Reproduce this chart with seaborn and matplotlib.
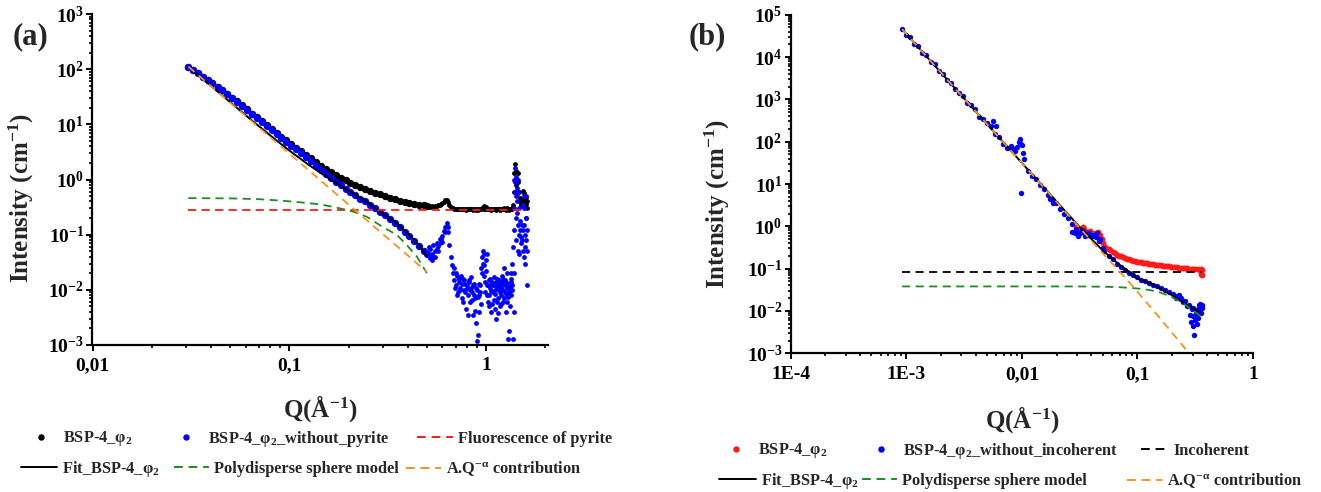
import matplotlib
matplotlib.use("Agg")
import matplotlib.pyplot as plt
import seaborn as sns
from matplotlib.lines import Line2D
from matplotlib.ticker import FixedLocator, FixedFormatter, LogLocator, NullFormatter

# ---------------- panel (a): SAXS, pyrite fluorescence ----------------
q_a_low = [0.0307, 0.0324, 0.0343, 0.0363, 0.0385, 0.0407, 0.0432, 0.0457, 0.0484, 0.0513,
           0.0543, 0.0575, 0.0610, 0.0646, 0.0684, 0.0724, 0.0767, 0.0813, 0.0861, 0.0912,
           0.0966, 0.102, 0.108, 0.115, 0.122, 0.129, 0.136, 0.145, 0.153, 0.162,
           0.172, 0.182, 0.193, 0.204, 0.216, 0.229, 0.243, 0.257, 0.272, 0.288,
           0.305, 0.324, 0.343, 0.363, 0.385, 0.407, 0.432, 0.457, 0.484, 0.500]
blue_a_low = [111, 97.5, 84, 73, 64, 55.5, 48, 41.5, 35.5, 30.3,
              25.9, 21.8, 18.3, 15.4, 13.1, 11.0, 9.3, 7.9, 6.7, 5.7,
              4.8, 4.1, 3.5, 3.0, 2.53, 2.13, 1.79, 1.51, 1.27, 1.07,
              0.91, 0.79, 0.68, 0.59, 0.52, 0.45, 0.40, 0.35, 0.30, 0.26,
              0.225, 0.19, 0.16, 0.135, 0.112, 0.093, 0.076, 0.062, 0.050, 0.045]
black_a_low = [111.3, 97.8, 84.3, 73.3, 64.3, 55.8, 48.3, 41.8, 35.8, 30.6,
               26.2, 22.1, 18.6, 15.7, 13.4, 11.3, 9.6, 8.2, 7.0, 6.0,
               5.1, 4.4, 3.8, 3.3, 2.81, 2.41, 2.07, 1.79, 1.55, 1.35,
               1.19, 1.07, 0.96, 0.87, 0.80, 0.73, 0.68, 0.63, 0.58, 0.54,
               0.505, 0.47, 0.44, 0.415, 0.392, 0.373, 0.36, 0.35, 0.34, 0.335]

q_a_high = [0.51, 0.52, 0.53, 0.54, 0.55, 0.56, 0.57, 0.58, 0.59, 0.60, 0.61, 0.62, 0.63, 0.64, 0.65, 0.66, 0.67,
            0.68, 0.69, 0.70, 0.71, 0.72, 0.73, 0.74, 0.75, 0.76, 0.77,
            0.78, 0.79, 0.80, 0.81, 0.82, 0.83, 0.84, 0.85, 0.86, 0.87,
            0.88, 0.89, 0.90, 0.91, 0.92, 0.93, 0.94, 0.95, 0.96, 0.97,
            0.98, 0.99, 1.00, 1.01, 1.02, 1.03, 1.04, 1.05, 1.06, 1.07,
            1.08, 1.09, 1.10, 1.11, 1.12, 1.13, 1.14, 1.15, 1.16, 1.17,
            1.18, 1.19, 1.20, 1.21, 1.22, 1.23, 1.24, 1.25, 1.26, 1.27,
            1.28, 1.29, 1.30, 1.31, 1.32, 1.33, 1.34, 1.35, 1.36,
            1.37, 1.38, 1.39, 1.40, 1.41, 1.42, 1.43, 1.44, 1.45, 1.46, 1.47, 1.48, 1.49,
            1.50, 1.51, 1.52, 1.53, 1.54, 1.55, 1.56, 1.57, 1.58, 1.59, 1.60, 1.61, 1.62]
blue_a_high = [0.042, 0.038, 0.045, 0.040, 0.050, 0.055, 0.062, 0.070, 0.082, 0.095, 0.115, 0.135, 0.145,
               0.110, 0.065, 0.040, 0.028,
               0.020, 0.015, 0.012, 0.018, 0.009, 0.014, 0.011, 0.007, 0.016, 0.010,
               0.013, 0.0045, 0.012, 0.008, 0.015, 0.006, 0.011, 0.009, 0.0035, 0.013,
               0.007, 0.0025, 0.010, 0.0015, 0.008, 0.012, 0.0055, 0.020, 0.030, 0.045,
               0.018, 0.009, 0.035, 0.012, 0.006, 0.015, 0.008, 0.011, 0.004, 0.014,
               0.009, 0.0065, 0.012, 0.0085, 0.003, 0.011, 0.016, 0.007, 0.010, 0.005,
               0.013, 0.008, 0.018, 0.012, 0.006, 0.025, 0.009, 0.015, 0.004, 0.011,
               0.020, 0.0075, 0.013, 0.0018, 0.010, 0.016, 0.008, 0.012, 0.030,
               0.06, 0.3, 1.0, 1.6, 1.1, 0.5, 0.25, 0.7, 1.0, 0.6, 0.3, 0.18, 0.12,
               0.09, 0.07, 0.08, 0.15, 0.35, 0.3, 0.15, 0.1, 0.06, 0.08, 0.2, 0.12, 0.012]
black_a_high = [0.325, 0.32, 0.325, 0.32, 0.33, 0.335, 0.34, 0.35, 0.36, 0.375, 0.395, 0.42, 0.43,
                0.39, 0.345, 0.32, 0.31,
                0.300, 0.295, 0.292, 0.298, 0.289, 0.294, 0.291, 0.287, 0.296, 0.290,
                0.293, 0.285, 0.292, 0.288, 0.295, 0.286, 0.291, 0.289, 0.284, 0.293,
                0.287, 0.283, 0.290, 0.282, 0.288, 0.292, 0.286, 0.300, 0.310, 0.325,
                0.298, 0.289, 0.315, 0.292, 0.286, 0.295, 0.288, 0.291, 0.284, 0.294,
                0.289, 0.287, 0.292, 0.289, 0.283, 0.291, 0.296, 0.287, 0.290, 0.285,
                0.293, 0.288, 0.298, 0.292, 0.286, 0.305, 0.289, 0.295, 0.284, 0.291,
                0.300, 0.288, 0.293, 0.282, 0.290, 0.296, 0.288, 0.292, 0.310,
                0.35, 0.6, 1.3, 1.9, 1.4, 0.8, 0.55, 1.0, 1.3, 0.9, 0.6, 0.46, 0.40,
                0.37, 0.35, 0.36, 0.43, 0.63, 0.58, 0.43, 0.38, 0.34, 0.36, 0.48, 0.40, 0.30]

q_a_extra = [0.51, 0.52, 0.53, 0.54, 0.55, 0.56, 0.57, 0.58, 0.60, 0.62, 0.63, 0.64,
             0.685, 0.695, 0.705, 0.715, 0.725, 0.735, 0.745, 0.755, 0.765, 0.775,
             0.785, 0.795, 0.805, 0.815, 0.825, 0.835, 0.845, 0.855, 0.865, 0.875,
             0.885, 0.895, 0.905, 0.915, 0.925, 0.935, 0.945, 0.955, 0.965, 0.975,
             0.985, 0.995, 1.005, 1.015, 1.025, 1.035, 1.045, 1.055, 1.065, 1.075,
             1.085, 1.095, 1.105, 1.115, 1.125, 1.135, 1.145, 1.155, 1.165, 1.175,
             1.185, 1.195, 1.205, 1.215, 1.225, 1.235, 1.245, 1.255, 1.265, 1.275,
             1.285, 1.295, 1.305, 1.315, 1.325, 1.335, 1.345, 1.355,
             1.375, 1.385, 1.395, 1.385, 1.39, 1.405, 1.415, 1.425, 1.435, 1.445, 1.455,
             1.465, 1.475, 1.535, 1.545, 1.555, 1.565, 1.575, 1.585, 1.595, 1.605]
blue_a_extra = [0.06, 0.055, 0.035, 0.065, 0.04, 0.07, 0.05, 0.085, 0.075, 0.11, 0.16, 0.14,
                0.025, 0.011, 0.020, 0.008, 0.016, 0.010, 0.018, 0.013, 0.006, 0.015,
                0.009, 0.011, 0.0035, 0.014, 0.010, 0.017, 0.0065, 0.012, 0.008, 0.0042,
                0.011, 0.0012, 0.0075, 0.013, 0.004, 0.009, 0.025, 0.040, 0.050, 0.028,
                0.014, 0.022, 0.045, 0.008, 0.012, 0.005, 0.016, 0.0095, 0.013, 0.0055,
                0.012, 0.017, 0.0045, 0.010, 0.014, 0.006, 0.012, 0.0038, 0.015, 0.009,
                0.011, 0.0055, 0.014, 0.010, 0.016, 0.007, 0.012, 0.0085, 0.014, 0.006,
                0.012, 0.0013, 0.009, 0.011, 0.005, 0.014, 0.020, 0.010,
                0.0013, 0.12, 0.6, 0.004, 0.02, 0.9, 0.2, 0.08, 0.4, 0.15, 0.05,
                0.1, 0.045, 0.05, 0.12, 0.5, 0.04, 0.03, 0.2, 0.5, 0.05]

# model curves of panel (a)
q_fit_a = [0.0307, 0.04, 0.05, 0.065, 0.08, 0.1, 0.125, 0.15, 0.175, 0.2, 0.25, 0.3, 0.35, 0.4, 0.45, 0.5]
fit_a = [111.5, 49.7, 25.3, 11.5, 6.3, 3.35, 1.86, 1.2, 0.84, 0.626, 0.385, 0.237, 0.163, 0.104, 0.068, 0.041]
q_sphere_a = [0.0307, 0.05, 0.07, 0.09, 0.1135, 0.143, 0.174, 0.212, 0.248, 0.30, 0.352, 0.395, 0.445, 0.5]
sphere_a = [0.46, 0.455, 0.44, 0.415, 0.386, 0.355, 0.31, 0.26, 0.21, 0.136, 0.099, 0.065, 0.040, 0.020]
q_power_a = [0.0307, 0.05, 0.1, 0.2, 0.3, 0.4, 0.5]
power_a = [111, 24.8, 2.95, 0.351, 0.101, 0.042, 0.021]
q_fluo_a = [0.0307, 1.6]
fluo_a = [0.28, 0.28]

# ---------------- panel (b): SANS, incoherent background ----------------
q_b = [0.000918, 0.00100, 0.001084, 0.001175, 0.001274, 0.00138, 0.001496, 0.001622, 0.001758, 0.001905,
       0.002065, 0.002239, 0.002427, 0.00263, 0.002851, 0.00309, 0.00335, 0.00363, 0.00394, 0.00427,
       0.00462, 0.00501, 0.00543, 0.00589, 0.00638, 0.00692, 0.0075, 0.00813, 0.00881, 0.00955,
       0.01035, 0.01122, 0.01216, 0.01318, 0.01429, 0.01549, 0.01679, 0.0182, 0.01972, 0.02138,
       0.02317, 0.02512, 0.02723, 0.02951, 0.03199, 0.03467, 0.03758, 0.04074, 0.04416, 0.04786,
       0.05188, 0.05623, 0.06095, 0.06607, 0.07161, 0.07762, 0.08414, 0.0912, 0.09886, 0.1072,
       0.1161, 0.1259, 0.1365, 0.1479, 0.1603, 0.1738, 0.1884, 0.2042, 0.2213, 0.2399,
       0.26, 0.2818, 0.3055, 0.3311, 0.3589]
blue_b = [46000, 33000, 29500, 20500, 17800, 12400, 10900, 7600, 6700, 4600,
          4050, 2850, 2500, 1760, 1380, 1190, 840, 720, 590, 380,
          350, 270, 230, 150, 128, 90, 72, 80, 65, 95,
          38, 20, 15.5, 12.8, 9.6, 7.5, 5.6, 4.4, 3.5, 2.6,
          2.0, 1.55, 1.15, 0.85, 0.7, 0.75, 0.62, 0.6, 0.55, 0.5,
          0.265, 0.2, 0.165, 0.13, 0.11, 0.092, 0.08, 0.07, 0.062, 0.055,
          0.05, 0.046, 0.042, 0.038, 0.035, 0.031, 0.028, 0.025, 0.022, 0.02,
          0.017, 0.014, 0.012, 0.011, 0.012]
q_b_extra = [0.0082, 0.0088, 0.0091, 0.0094, 0.0097, 0.0100, 0.0099, 0.0103, 0.0056, 0.0060,
             0.0175, 0.0185, 0.027, 0.029, 0.0305, 0.033, 0.0355, 0.038, 0.0415, 0.045, 0.0465, 0.050,
             0.215, 0.23, 0.25, 0.27, 0.285, 0.29, 0.295, 0.30, 0.305, 0.31,
             0.315, 0.32, 0.325, 0.33, 0.335, 0.34, 0.345, 0.35, 0.355, 0.36]
blue_b_extra = [70, 60, 75, 100, 117, 85, 6.2, 55, 300, 230,
                4.5, 3.5, 0.75, 0.68, 0.6, 0.8, 0.6, 0.7, 0.62, 0.7, 0.45, 0.3,
                0.02, 0.024, 0.016, 0.013, 0.008, 0.0055, 0.011, 0.0045, 0.0075, 0.0027,
                0.006, 0.009, 0.005, 0.0085, 0.007, 0.014, 0.010, 0.015, 0.009, 0.014]

q_b_red = [0.02951, 0.03199, 0.03467, 0.03758, 0.04074, 0.04416, 0.04786, 0.05188, 0.05623, 0.06095,
           0.06607, 0.07161, 0.07762, 0.08414, 0.0912, 0.09886, 0.1072, 0.1161, 0.1259, 0.1365,
           0.1479, 0.1603, 0.1738, 0.1884, 0.2042, 0.2213, 0.2399, 0.26, 0.2818, 0.3055,
           0.3311, 0.3589,
           0.0305, 0.0335, 0.036, 0.039, 0.0425, 0.046, 0.0495, 0.0505, 0.054, 0.058,
           0.064, 0.069, 0.075, 0.081, 0.088, 0.095, 0.103, 0.112, 0.121, 0.131,
           0.142, 0.154, 0.167, 0.181, 0.196, 0.212, 0.23, 0.25, 0.27, 0.294,
           0.318, 0.345, 0.355, 0.36, 0.352]
red_b = [0.95, 0.8, 0.85, 0.72, 0.7, 0.68, 0.62, 0.35, 0.29, 0.25,
         0.215, 0.195, 0.177, 0.165, 0.155, 0.147, 0.14, 0.135, 0.131, 0.127,
         0.123, 0.12, 0.116, 0.113, 0.11, 0.107, 0.105, 0.102, 0.1, 0.098,
         0.096, 0.094,
         0.85, 0.95, 0.75, 0.78, 0.66, 0.75, 0.5, 0.4, 0.31, 0.27,
         0.23, 0.2, 0.185, 0.17, 0.16, 0.15, 0.145, 0.138, 0.133, 0.128,
         0.125, 0.121, 0.118, 0.115, 0.111, 0.108, 0.106, 0.103, 0.101, 0.099,
         0.097, 0.095, 0.075, 0.07, 0.1]

# model curves of panel (b)
q_fit_b = [0.00092, 0.002, 0.005, 0.01, 0.02, 0.031, 0.05, 0.07, 0.086, 0.1, 0.13, 0.16, 0.2, 0.25, 0.3, 0.35]
fit_b = [45700, 4260, 260, 31.5, 3.84, 1.02, 0.27, 0.123, 0.082, 0.058, 0.045, 0.033, 0.0235, 0.0155, 0.0115, 0.0093]
q_sphere_b = [0.00092, 0.01, 0.03, 0.05, 0.07, 0.1, 0.13, 0.16, 0.2, 0.25, 0.3, 0.35]
sphere_b = [0.038, 0.038, 0.038, 0.0375, 0.0365, 0.034, 0.031, 0.027, 0.021, 0.015, 0.0105, 0.0075]
q_power_b = [0.00092, 0.002, 0.005, 0.01, 0.02, 0.031, 0.05, 0.086, 0.15, 0.28]
power_b = [45700, 4260, 260, 31.4, 3.8, 0.98, 0.233, 0.046, 0.0078, 0.001]
q_incoh_b = [0.00092, 0.36]
incoh_b = [0.085, 0.085]

# ---------------- styling ----------------
sns.set_theme(style="ticks")
plt.rcParams.update({
    "font.family": ["Liberation Serif", "DejaVu Serif"],
    "font.weight": "bold",
    "axes.labelweight": "bold",
    "mathtext.fontset": "custom",
    "mathtext.rm": "Liberation Serif:bold",
    "mathtext.bf": "Liberation Serif:bold",
    "mathtext.it": "Liberation Serif:bold:italic",
    "mathtext.default": "bf",
    "axes.linewidth": 1.6,
    "axes.edgecolor": "black",
    "xtick.color": "black", "ytick.color": "black",
    "xtick.direction": "out", "ytick.direction": "out",
    "xtick.major.size": 4, "ytick.major.size": 4,
    "xtick.minor.size": 2.5, "ytick.minor.size": 2.5,
    "xtick.major.width": 1.4, "ytick.major.width": 1.4,
    "xtick.minor.width": 1.2, "ytick.minor.width": 1.2,
    "xtick.major.pad": 5, "ytick.major.pad": 2,
    "xtick.labelsize": 14, "ytick.labelsize": 14,
})

W, H = 1321, 492
fig = plt.figure(figsize=(W / 100, H / 100), dpi=100)
fig.patch.set_facecolor("white")
ax_a = fig.add_axes([92.5 / W, 147 / H, 455 / W, 331 / H])
ax_b = fig.add_axes([790.7 / W, 138.7 / H, 462.3 / W, 338.6 / H])

BLUE, RED, GREEN, ORANGE = "#0000FF", "#FF1A1A", "#1E8C1E", "#F7931E"
DASH = (0, (4.5, 3))

for ax in (ax_a, ax_b):
    ax.set(xscale="log", yscale="log")
    ax.set_facecolor("white")

# panel (a)
sns.scatterplot(x=q_a_low, y=black_a_low, ax=ax_a, color="black", s=28, linewidth=0, legend=False, zorder=1)
sns.scatterplot(x=q_a_high, y=black_a_high, ax=ax_a, color="black", s=12, linewidth=0, legend=False, zorder=1)
sns.scatterplot(x=q_a_low, y=blue_a_low, ax=ax_a, color=BLUE, s=28, linewidth=0, legend=False, zorder=2)
sns.scatterplot(x=q_a_high, y=blue_a_high, ax=ax_a, color=BLUE, s=12, linewidth=0, legend=False, zorder=2)
sns.scatterplot(x=q_a_extra, y=blue_a_extra, ax=ax_a, color=BLUE, s=12, linewidth=0, legend=False, zorder=2)
sns.lineplot(x=q_fit_a, y=fit_a, ax=ax_a, color="black", linewidth=1.4, errorbar=None, zorder=3)
sns.lineplot(x=q_fluo_a, y=fluo_a, ax=ax_a, color=RED, linewidth=1.3, linestyle=DASH, errorbar=None, zorder=4)
sns.lineplot(x=q_sphere_a, y=sphere_a, ax=ax_a, color=GREEN, linewidth=1.3, linestyle=DASH, errorbar=None, zorder=4)
sns.lineplot(x=q_power_a, y=power_a, ax=ax_a, color=ORANGE, linewidth=1.3, linestyle=DASH, errorbar=None, zorder=4)

# panel (b)
sns.scatterplot(x=q_b_red, y=red_b, ax=ax_b, color=RED, s=18, linewidth=0, legend=False, zorder=1)
sns.scatterplot(x=q_b, y=blue_b, ax=ax_b, color=BLUE, s=15, linewidth=0, legend=False, zorder=2)
sns.scatterplot(x=q_b_extra, y=blue_b_extra, ax=ax_b, color=BLUE, s=15, linewidth=0, legend=False, zorder=2)
sns.lineplot(x=q_fit_b, y=fit_b, ax=ax_b, color="black", linewidth=1.4, errorbar=None, zorder=3)
sns.lineplot(x=q_incoh_b, y=incoh_b, ax=ax_b, color="black", linewidth=1.3, linestyle=DASH, errorbar=None, zorder=3)
sns.lineplot(x=q_sphere_b, y=sphere_b, ax=ax_b, color=GREEN, linewidth=1.3, linestyle=DASH, errorbar=None, zorder=3)
sns.lineplot(x=q_power_b, y=power_b, ax=ax_b, color=ORANGE, linewidth=1.3, linestyle=DASH, errorbar=None, zorder=4)

# axes, ticks and labels
ax_a.set_xlim(0.01, 2.05)
ax_a.set_ylim(1e-3, 1e3)
ax_b.set_xlim(1e-4, 1)
ax_b.set_ylim(1e-3, 1e5)

xt_a = [0.01, 0.1, 1]
xl_a = ["0,01", "0,1", "1"]
xt_b = [1e-4, 1e-3, 0.01, 0.1, 1]
xl_b = ["1E-4", "1E-3", "0,01", "0,1", "1"]
yt_a = [1e-3, 1e-2, 1e-1, 1, 10, 100, 1000]
yl_a = [r"$10^{-3}$", r"$10^{-2}$", r"$10^{-1}$", r"$10^{0}$", r"$10^{1}$", r"$10^{2}$", r"$10^{3}$"]
yt_b = [1e-3, 1e-2, 1e-1, 1, 10, 100, 1e3, 1e4, 1e5]
yl_b = [r"$10^{-3}$", r"$10^{-2}$", r"$10^{-1}$", r"$10^{0}$", r"$10^{1}$", r"$10^{2}$",
        r"$10^{3}$", r"$10^{4}$", r"$10^{5}$"]

for ax, xt, xl, yt, yl in ((ax_a, xt_a, xl_a, yt_a, yl_a), (ax_b, xt_b, xl_b, yt_b, yl_b)):
    ax.xaxis.set_major_locator(FixedLocator(xt))
    ax.xaxis.set_major_formatter(FixedFormatter(xl))
    ax.yaxis.set_major_locator(FixedLocator(yt))
    ax.yaxis.set_major_formatter(FixedFormatter(yl))
    ax.xaxis.set_minor_locator(LogLocator(base=10, subs=range(2, 10), numticks=20))
    ax.yaxis.set_minor_locator(LogLocator(base=10, subs=range(2, 10), numticks=20))
    ax.xaxis.set_minor_formatter(NullFormatter())
    ax.yaxis.set_minor_formatter(NullFormatter())
    for t in ax.get_xticklabels() + ax.get_yticklabels():
        t.set_fontweight("bold")
    sns.despine(ax=ax)
    ax.set_xlabel("Q(Å$^{-1}$)", fontsize=18, fontweight="bold")
    ax.set_ylabel("Intensity (cm$^{-1}$)", fontsize=18, fontweight="bold")

ax_a.yaxis.set_label_coords(-0.124, 0.444)
ax_a.xaxis.set_label_coords(0.5, -0.145)
ax_b.yaxis.set_label_coords(-0.127, 0.441)
ax_b.xaxis.set_label_coords(0.5, -0.15)

fig.text(13 / W, 1 - 37 / H, "(a)", fontsize=22, fontweight="bold", ha="left", va="center")
fig.text(689 / W, 1 - 37 / H, "(b)", fontsize=22, fontweight="bold", ha="left", va="center")

# legends: one entry at a time, laid out in two rows under each panel
LEG_FS = 11.8
px_per_em = LEG_FS * 100 / 72


def dot(c):
    return Line2D([], [], marker="o", linestyle="none", color=c, markersize=3.6)


def line(c, dashed=True):
    return Line2D([], [], color=c, linewidth=1.4, linestyle=DASH if dashed else "-")


def entry(handle, text, left_px, y_px, hl_px):
    fig.legend([handle], [text], loc="center left", bbox_to_anchor=(left_px / W, 1 - y_px / H),
               frameon=False, borderpad=0, borderaxespad=0, handlelength=hl_px / px_per_em,
               handletextpad=0.3, fontsize=LEG_FS)


entry(dot("black"), "BSP-4_φ$_2$", 23.5, 439, 35)
entry(dot(BLUE), "BSP-4_φ$_2$_without_pyrite", 168.5, 439, 35)
entry(line(RED), "Fluorescence of pyrite", 417, 439, 36)
entry(line("black", dashed=False), "Fit_BSP-4_φ$_2$", 21, 469, 36)
entry(line(GREEN), "Polydisperse sphere model", 174, 469, 35)
entry(line(ORANGE), "A.Q$^{-\\alpha}$ contribution", 406, 469, 35)

entry(dot(RED), "BSP-4_φ$_2$", 719, 451, 34)
entry(dot(BLUE), "BSP-4_φ$_2$_without_incoherent", 864, 451, 34)
entry(line("black"), "Incoherent", 1141, 451, 28)
entry(line("black", dashed=False), "Fit_BSP-4_φ$_2$", 719, 481, 37)
entry(line(GREEN), "Polydisperse sphere model", 862, 481, 35)
entry(line(ORANGE), "A.Q$^{-\\alpha}$ contribution", 1127, 481, 35)

fig.savefig("out.png", dpi=100, facecolor="white")
